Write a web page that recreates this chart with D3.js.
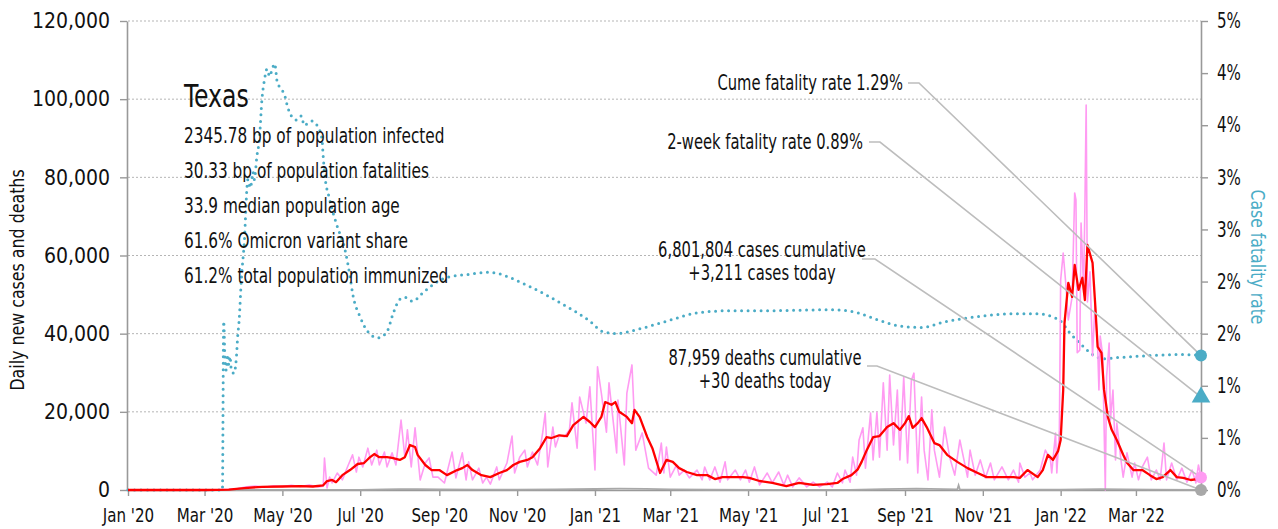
<!DOCTYPE html>
<html><head><meta charset="utf-8">
<script src="https://cdn.jsdelivr.net/npm/d3@7"></script>
<style>
body{margin:0;background:#fff;}
svg text{font-family:"Liberation Sans Narrow","Arial Narrow","DejaVu Sans Condensed",sans-serif;fill:#111;}
</style></head><body>
<svg id="chart" width="1278" height="529"></svg>
<script>
// ---------------- DATA ----------------
const yTicks = [0, 20000, 40000, 60000, 80000, 100000, 120000];
const rateTicks = [0, 0.005, 0.01, 0.015, 0.02, 0.025, 0.03, 0.035, 0.04, 0.045];
const rateTickLabels = ["0%","1%","1%","2%","2%","3%","3%","4%","4%","5%"];
const monthTicks = ["2020-01-01","2020-03-01","2020-05-01","2020-07-01","2020-09-01","2020-11-01",
  "2021-01-01","2021-03-01","2021-05-01","2021-07-01","2021-09-01","2021-11-01","2022-01-01","2022-03-01"];
const dateDomain = ["2020-01-01","2022-04-21"];

const statTitle = "Texas";
const statLines = [
  "2345.78 bp of population infected",
  "30.33 bp of population fatalities",
  "33.9 median population age",
  "61.6% Omicron variant share",
  "61.2% total population immunized"
];

const cumeRate = 0.0129;
const twoWeekRate = 0.0089;
const casesCumulative = "6,801,804";
const casesToday = 3211;
const deathsCumulative = "87,959";
const deathsToday = 30;

const dailyCases = [
["2020-01-01",0],["2020-03-05",0],["2020-03-20",150],["2020-03-27",400],["2020-04-03",800],["2020-04-10",1000],["2020-04-17",700],["2020-04-24",1100],["2020-05-01",900],["2020-05-08",1200],["2020-05-15",900],["2020-05-22",1300],["2020-05-29",800],["2020-06-02",1000],["2020-06-03",8200],["2020-06-05",500],["2020-06-07",3300],["2020-06-09",1800],["2020-06-13",4350],["2020-06-17",2600],["2020-06-21",5900],["2020-06-25",9000],["2020-06-28",4600],["2020-06-30",8400],["2020-07-03",5900],["2020-07-07",10700],["2020-07-10",6400],["2020-07-14",10200],["2020-07-16",6400],["2020-07-20",9700],["2020-07-22",5900],["2020-07-26",9500],["2020-07-29",6400],["2020-08-02",17900],["2020-08-05",8400],["2020-08-07",15400],["2020-08-10",5900],["2020-08-13",15900],["2020-08-17",2560],["2020-08-21",6900],["2020-08-24",8200],["2020-08-27",3300],["2020-08-31",3300],["2020-09-05",1800],["2020-09-11",9700],["2020-09-14",3100],["2020-09-19",9500],["2020-09-22",2600],["2020-09-24",7200],["2020-09-27",2600],["2020-10-02",5600],["2020-10-05",1800],["2020-10-08",3300],["2020-10-11",1500],["2020-10-16",5900],["2020-10-18",2600],["2020-10-24",6900],["2020-10-28",13800],["2020-10-30",4350],["2020-11-03",8400],["2020-11-07",10200],["2020-11-09",5900],["2020-11-13",9700],["2020-11-17",6400],["2020-11-21",14600],["2020-11-23",19700],["2020-11-25",5900],["2020-11-29",16100],["2020-12-01",11000],["2020-12-04",14000],["2020-12-08",13600],["2020-12-12",15400],["2020-12-14",22300],["2020-12-18",10700],["2020-12-20",23800],["2020-12-25",17100],["2020-12-28",26400],["2021-01-01",5100],["2021-01-03",31500],["2021-01-06",24800],["2021-01-10",14800],["2021-01-12",27400],["2021-01-18",9500],["2021-01-19",23000],["2021-01-24",6400],["2021-01-26",24800],["2021-01-30",32000],["2021-02-02",10200],["2021-02-07",14600],["2021-02-12",5600],["2021-02-18",3800],["2021-02-22",12000],["2021-02-24",4350],["2021-02-26",11000],["2021-03-01",3300],["2021-03-06",6400],["2021-03-08",3800],["2021-03-12",5100],["2021-03-16",3100],["2021-03-22",5100],["2021-03-26",2600],["2021-03-28",5900],["2021-04-01",2600],["2021-04-05",5900],["2021-04-09",2000],["2021-04-13",7200],["2021-04-15",2600],["2021-04-21",5100],["2021-04-25",2600],["2021-04-29",5100],["2021-05-02",2000],["2021-05-06",5900],["2021-05-10",1300],["2021-05-16",4350],["2021-05-20",1800],["2021-05-25",4600],["2021-05-29",1300],["2021-06-01",3800],["2021-06-05",800],["2021-06-10",3100],["2021-06-16",800],["2021-06-21",2000],["2021-06-26",800],["2021-07-02",2000],["2021-07-06",800],["2021-07-10",4350],["2021-07-14",1800],["2021-07-16",5100],["2021-07-20",2000],["2021-07-22",8400],["2021-07-25",3800],["2021-07-27",12800],["2021-07-30",15900],["2021-08-01",5600],["2021-08-05",19700],["2021-08-07",7700],["2021-08-10",19900],["2021-08-12",8400],["2021-08-15",27400],["2021-08-18",10200],["2021-08-20",29400],["2021-08-23",11500],["2021-08-26",25600],["2021-08-28",7700],["2021-08-31",28900],["2021-09-03",6900],["2021-09-06",28100],["2021-09-08",29900],["2021-09-11",4350],["2021-09-14",23800],["2021-09-16",10200],["2021-09-19",2560],["2021-09-22",20500],["2021-09-24",10200],["2021-09-28",3300],["2021-10-02",16100],["2021-10-06",8400],["2021-10-10",3800],["2021-10-14",12800],["2021-10-20",3300],["2021-10-22",10200],["2021-10-26",3800],["2021-10-30",7700],["2021-11-03",3100],["2021-11-07",6900],["2021-11-10",2600],["2021-11-16",5900],["2021-11-21",2600],["2021-11-25",5100],["2021-11-29",2000],["2021-11-30",6900],["2021-12-04",3300],["2021-12-08",4350],["2021-12-10",2600],["2021-12-16",5100],["2021-12-20",10200],["2021-12-24",7700],["2021-12-25",4350],["2021-12-28",14600],["2021-12-29",4350],["2021-12-31",15400],["2022-01-01",53700],["2022-01-03",60600],["2022-01-05",52900],["2022-01-07",43500],["2022-01-10",49400],["2022-01-12",76000],["2022-01-13",74200],["2022-01-14",35100],["2022-01-16",35800],["2022-01-17",68300],["2022-01-19",51200],["2022-01-20",72400],["2022-01-21",98500],["2022-01-22",48100],["2022-01-24",55800],["2022-01-26",34300],["2022-01-28",47900],["2022-01-30",36600],["2022-01-31",25600],["2022-02-01",39400],["2022-02-03",34300],["2022-02-05",0],["2022-02-06",28900],["2022-02-08",37600],["2022-02-09",17900],["2022-02-11",25600],["2022-02-13",7700],["2022-02-14",17100],["2022-02-17",8400],["2022-02-19",3300],["2022-02-22",9500],["2022-02-26",3300],["2022-02-28",6900],["2022-03-03",2600],["2022-03-06",5900],["2022-03-10",8400],["2022-03-13",2600],["2022-03-17",5100],["2022-03-20",2600],["2022-03-23",12000],["2022-03-25",2600],["2022-03-29",6900],["2022-04-02",2600],["2022-04-06",5600],["2022-04-10",2000],["2022-04-14",5100],["2022-04-17",1800],["2022-04-19",6400],["2022-04-21",3211]
];

const avgCases = [
["2020-01-01",0],["2020-03-01",0],["2020-03-20",100],["2020-04-01",500],["2020-04-15",800],["2020-05-01",900],["2020-05-15",1000],["2020-05-25",900],["2020-06-02",1200],["2020-06-05",2300],["2020-06-09",2560],["2020-06-12",2000],["2020-06-17",3800],["2020-06-23",5100],["2020-06-29",6650],["2020-07-04",6900],["2020-07-08",8200],["2020-07-12",9200],["2020-07-16",8400],["2020-07-22",8400],["2020-07-26",8200],["2020-08-01",7700],["2020-08-05",8400],["2020-08-09",11500],["2020-08-13",11000],["2020-08-15",9000],["2020-08-21",6400],["2020-08-26",5100],["2020-09-01",5100],["2020-09-07",3800],["2020-09-15",5100],["2020-09-19",5600],["2020-09-23",6400],["2020-09-27",5100],["2020-10-04",3800],["2020-10-11",3300],["2020-10-18",4350],["2020-10-24",5100],["2020-10-29",6400],["2020-11-03",7200],["2020-11-09",7700],["2020-11-13",8400],["2020-11-19",10700],["2020-11-24",13500],["2020-11-28",13300],["2020-12-04",14000],["2020-12-10",13800],["2020-12-15",16600],["2020-12-23",18700],["2020-12-28",17400],["2021-01-01",16100],["2021-01-06",18700],["2021-01-09",22500],["2021-01-14",21800],["2021-01-17",22500],["2021-01-20",20000],["2021-01-26",18700],["2021-01-30",17100],["2021-02-01",20500],["2021-02-05",18700],["2021-02-11",13500],["2021-02-15",10700],["2021-02-21",4350],["2021-02-26",7700],["2021-03-03",7200],["2021-03-08",5600],["2021-03-14",4600],["2021-03-22",3800],["2021-03-30",3800],["2021-04-05",2800],["2021-04-11",3300],["2021-04-19",3300],["2021-04-27",3300],["2021-05-02",3100],["2021-05-10",2300],["2021-05-20",1800],["2021-05-31",1000],["2021-06-10",1800],["2021-06-21",1300],["2021-07-02",1500],["2021-07-10",1800],["2021-07-14",2800],["2021-07-21",3800],["2021-07-26",5300],["2021-07-29",7200],["2021-08-02",10200],["2021-08-07",13500],["2021-08-12",13800],["2021-08-18",16100],["2021-08-23",17100],["2021-08-28",15400],["2021-09-01",17100],["2021-09-04",18900],["2021-09-07",15900],["2021-09-11",17100],["2021-09-14",18400],["2021-09-18",16100],["2021-09-24",12000],["2021-09-28",11500],["2021-10-04",9000],["2021-10-12",7200],["2021-10-20",5600],["2021-10-28",4350],["2021-11-04",3300],["2021-11-14",3300],["2021-11-25",3300],["2021-11-30",3100],["2021-12-06",5100],["2021-12-14",3300],["2021-12-18",5100],["2021-12-22",9000],["2021-12-26",7700],["2021-12-30",10000],["2022-01-01",12800],["2022-01-03",25600],["2022-01-04",42700],["2022-01-07",53000],["2022-01-10",49400],["2022-01-12",57600],["2022-01-15",51200],["2022-01-18",54300],["2022-01-20",48600],["2022-01-22",62700],["2022-01-26",58100],["2022-01-28",47900],["2022-01-30",36600],["2022-02-02",35100],["2022-02-04",25600],["2022-02-07",18700],["2022-02-10",15400],["2022-02-14",12800],["2022-02-19",9000],["2022-02-22",7000],["2022-02-27",5100],["2022-03-06",5100],["2022-03-12",3800],["2022-03-17",2800],["2022-03-22",3300],["2022-03-28",5100],["2022-04-02",3300],["2022-04-07",3100],["2022-04-13",2560],["2022-04-18",2800],["2022-04-21",3000]
];

const dailyDeaths = [
["2020-01-01",0],["2020-03-15",0],["2020-04-15",40],["2020-05-15",35],["2020-06-15",30],["2020-07-01",50],["2020-07-20",150],["2020-08-01",230],["2020-08-15",200],["2020-09-01",130],["2020-10-01",80],["2020-11-01",100],["2020-12-01",180],["2021-01-01",260],["2021-01-20",350],["2021-02-10",300],["2021-03-01",170],["2021-04-01",60],["2021-06-01",30],["2021-07-20",40],["2021-08-15",200],["2021-09-10",330],["2021-10-01",230],["2021-10-12",150],["2021-10-13",1200],["2021-10-14",150],["2021-11-01",90],["2021-12-01",60],["2022-01-01",60],["2022-02-01",200],["2022-02-20",180],["2022-03-15",80],["2022-04-21",30]
];

// case fatality rate, percent
const fatalityRate = [
["2020-01-01",0],["2020-03-15",0],["2020-03-16",1.62],["2020-03-17",1.25],["2020-03-18",1.15],["2020-03-19",1.30],["2020-03-20",1.20],["2020-03-21",1.28],["2020-03-22",1.15],["2020-03-24",1.12],["2020-03-26",1.28],["2020-03-27",1.48],["2020-03-28",1.61],["2020-03-30",2.05],["2020-04-01",2.35],["2020-04-04",2.98],["2020-04-06",2.90],["2020-04-08",3.05],["2020-04-09",2.98],["2020-04-11",3.20],["2020-04-13",3.37],["2020-04-15",3.75],["2020-04-17",3.94],["2020-04-19",4.04],["2020-04-21",3.97],["2020-04-23",4.04],["2020-04-25",4.09],["2020-04-27",3.91],["2020-04-30",3.85],["2020-05-03",3.78],["2020-05-05",3.68],["2020-05-08",3.59],["2020-05-12",3.55],["2020-05-16",3.59],["2020-05-18",3.50],["2020-05-24",3.54],["2020-05-29",3.48],["2020-06-01",3.37],["2020-06-02",3.20],["2020-06-03",3.05],["2020-06-07",2.79],["2020-06-13",2.53],["2020-06-19",2.31],["2020-06-23",2.05],["2020-06-25",1.89],["2020-07-01",1.66],["2020-07-07",1.52],["2020-07-15",1.46],["2020-07-22",1.52],["2020-07-27",1.70],["2020-08-01",1.83],["2020-08-05",1.85],["2020-08-11",1.81],["2020-08-19",1.89],["2020-08-27",1.97],["2020-09-07",2.04],["2020-09-25",2.07],["2020-10-09",2.09],["2020-11-11",1.95],["2020-12-07",1.78],["2020-12-28",1.62],["2021-01-07",1.52],["2021-01-18",1.50],["2021-02-03",1.54],["2021-03-01",1.63],["2021-03-22",1.70],["2021-04-17",1.72],["2021-05-13",1.72],["2021-07-05",1.73],["2021-07-26",1.70],["2021-08-11",1.63],["2021-08-30",1.57],["2021-09-15",1.56],["2021-10-01",1.61],["2021-10-14",1.64],["2021-11-01",1.67],["2021-11-22",1.69],["2021-12-14",1.69],["2021-12-26",1.66],["2022-01-01",1.62],["2022-01-08",1.51],["2022-01-16",1.41],["2022-01-26",1.30],["2022-02-03",1.26],["2022-02-14",1.27],["2022-03-12",1.29],["2022-04-07",1.30],["2022-04-21",1.29]
];

// ---------------- CHART ----------------
const parse = d3.utcParse("%Y-%m-%d");
const M = {left:128, right:1201, top:21, bottom:490};
const BLUE = "#4bacc6", PINK = "#ff9bf2", RED = "#ff0000", GREY = "#999";
const svg = d3.select("#chart");

// horizontally condense text (the reference uses a condensed typeface)
function squeeze(sel, sx) {
  sel.each(function () {
    const t = d3.select(this);
    const x0 = +t.attr("x") || 0;
    t.attr("x", x0 / sx);
    const tr = t.attr("transform") || "";
    t.attr("transform", (tr + ` scale(${sx},1)`).trim());
  });
}

const x = d3.scaleUtc().domain(dateDomain.map(parse)).range([M.left, M.right]);
const y = d3.scaleLinear().domain([0, 120000]).range([M.bottom, M.top]);
const yR = d3.scaleLinear().domain([0, 0.045]).range([M.bottom, M.top]);

// gridlines
svg.append("g").selectAll("line").data(yTicks.filter(d => d > 0)).join("line")
  .attr("x1", M.left).attr("x2", M.right)
  .attr("y1", d => y(d)).attr("y2", d => y(d))
  .attr("stroke", "#b5b5b5").attr("stroke-width", 1).attr("stroke-dasharray", "2,2");

// axes
const styleAxis = g => {
  g.selectAll(".domain").attr("stroke", GREY).attr("stroke-width", 1.6);
  g.selectAll(".tick line").attr("stroke", GREY).attr("stroke-width", 1.4);
  g.selectAll("text").attr("font-size", 20);
};
svg.append("g").attr("transform", `translate(${M.left - 1},0)`)
  .call(d3.axisLeft(y).tickValues(yTicks).tickFormat(d3.format(",")).tickSize(7).tickSizeOuter(0).tickPadding(10))
  .call(styleAxis).call(g => g.selectAll("text").attr("fill", "#111").attr("font-size", 21));
const gR = svg.append("g").attr("transform", `translate(${M.right},0)`)
  .call(d3.axisRight(yR).tickValues(rateTicks).tickFormat((d, i) => rateTickLabels[i]).tickSize(7).tickSizeOuter(0).tickPadding(9))
  .call(styleAxis).call(g => g.selectAll("text").attr("fill", BLUE).attr("font-size", 21));
squeeze(gR.selectAll("text"), 0.8);
const gB = svg.append("g").attr("transform", `translate(0,${M.bottom})`)
  .call(d3.axisBottom(x).tickValues(monthTicks.map(parse)).tickFormat(d3.utcFormat("%b '%y")).tickSize(6).tickSizeOuter(0).tickPadding(12))
  .call(styleAxis).call(g => g.selectAll("text").attr("fill", "#111"));
squeeze(gB.selectAll("text"), 0.84);

// axis titles
const tL = svg.append("text").attr("transform", "translate(24,280) rotate(-90)")
  .attr("text-anchor", "middle").attr("font-size", 20).text("Daily new cases and deaths");
squeeze(tL, 0.88);
const tR = svg.append("text").attr("transform", "translate(1251,257) rotate(90)")
  .attr("text-anchor", "middle").attr("font-size", 20).style("fill", BLUE).text("Case fatality rate");
squeeze(tR, 0.87);

// series
const lineC = d3.line().x(d => x(parse(d[0]))).y(d => y(d[1]));
const lineR = d3.line().x(d => x(parse(d[0]))).y(d => yR(d[1] / 100)).curve(d3.curveMonotoneX);

svg.append("path").datum(fatalityRate).attr("d", lineR).attr("fill", "none")
  .attr("stroke", BLUE).attr("stroke-width", 3).attr("stroke-linecap", "round").attr("stroke-dasharray", "0 6.5");
svg.append("path").datum(dailyCases).attr("d", lineC).attr("fill", "none")
  .attr("stroke", PINK).attr("stroke-width", 1.6).attr("stroke-linejoin", "round");
svg.append("path").datum(dailyDeaths).attr("d", lineC).attr("fill", "none")
  .attr("stroke", "#a8a8a8").attr("stroke-width", 1.8);
svg.append("path").datum(avgCases).attr("d", lineC).attr("fill", "none")
  .attr("stroke", RED).attr("stroke-width", 2.3).attr("stroke-linejoin", "round");

// stats block
squeeze(svg.append("text").attr("x", 184).attr("y", 107).attr("font-size", 32).text(statTitle), 0.82);
squeeze(svg.append("g").selectAll("text").data(statLines).join("text")
  .attr("x", 184).attr("y", (d, i) => 143 + i * 35).attr("font-size", 21).text(d => d), 0.81);

// annotations
const xEnd = x(parse(dateDomain[1]));
const annos = [
  {lines:[`Cume fatality rate ${(cumeRate*100).toFixed(2)}%`], anchor:"end", tx:903, ty:[90], lx:[908,919], ly:83, ex:xEnd, ey:yR(cumeRate)},
  {lines:[`2-week fatality rate ${(twoWeekRate*100).toFixed(2)}%`], anchor:"end", tx:863, ty:[149], lx:[869,880], ly:142, ex:xEnd, ey:yR(twoWeekRate)},
  {lines:[`${casesCumulative} cases cumulative`, `+${d3.format(",")(casesToday)} cases today`], anchor:"middle", tx:762, ty:[257,280], lx:[862,875], ly:259, ex:xEnd, ey:y(casesToday)},
  {lines:[`${deathsCumulative} deaths cumulative`, `+${deathsToday} deaths today`], anchor:"middle", tx:765, ty:[365,388], lx:[867,877], ly:366, ex:xEnd, ey:y(deathsToday)}
];
annos.forEach(a => {
  a.lines.forEach((t, i) => squeeze(svg.append("text").attr("x", a.tx).attr("y", a.ty[i])
    .attr("text-anchor", a.anchor).attr("font-size", 21).text(t), 0.78));
  svg.append("path").attr("d", `M${a.lx[0]},${a.ly}L${a.lx[1]},${a.ly}L${a.ex},${a.ey}`)
    .attr("fill", "none").attr("stroke", "#bdbdbd").attr("stroke-width", 1.6);
});

// end markers
svg.append("circle").attr("cx", xEnd).attr("cy", yR(cumeRate)).attr("r", 6).attr("fill", BLUE);
svg.append("path").attr("d", d3.symbol(d3.symbolTriangle, 150)())
  .attr("transform", `translate(${xEnd},${yR(twoWeekRate)})`).attr("fill", BLUE);
svg.append("circle").attr("cx", xEnd).attr("cy", y(casesToday)).attr("r", 6).attr("fill", PINK);
svg.append("circle").attr("cx", xEnd).attr("cy", y(deathsToday)).attr("r", 6).attr("fill", "#a8a8a8");
</script>
</body></html>
